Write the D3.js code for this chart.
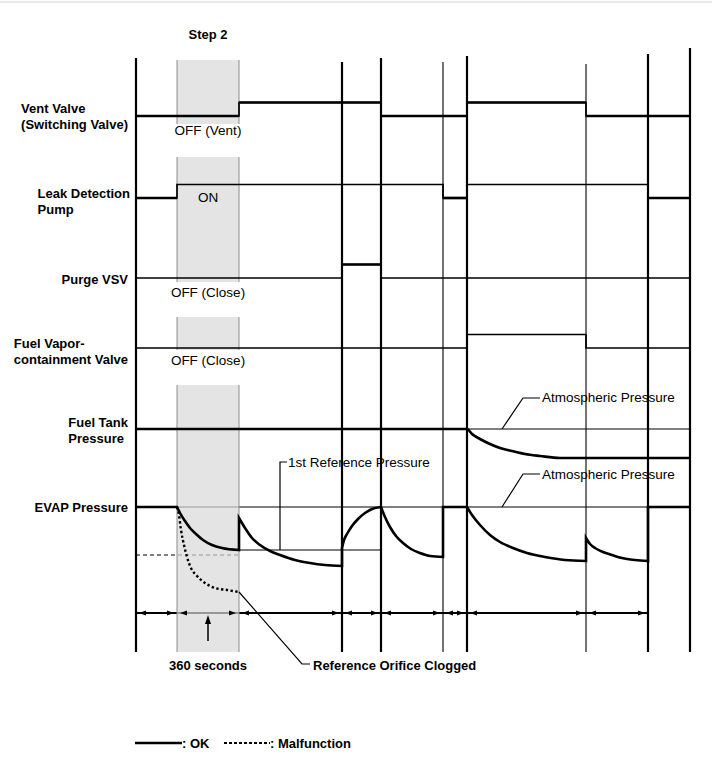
<!DOCTYPE html>
<meta charset="utf-8">
<style>
body { margin: 0; background: #fff; }
svg { display: block; font-family: "Liberation Sans", Arial, sans-serif; }
.lbl { font-size: 13px; font-weight: bold; }
.note { font-size: 13.5px; }
.thin { stroke: #000; stroke-width: 1px; fill: none; }
</style>
<svg width="712" height="782"></svg>
<script src="https://d3js.org/d3.v7.min.js"></script>
<script>

// time along the check cycle (arbitrary units, start = 0)
var timeMarks = [0, 206, 245, 307, 331, 450, 512, 554];
var stepBand = [41, 103];
var timeSegments = [0, 41, 103, 206, 245, 307, 331, 450, 512];

// on/off signals: [time, state]  (1 = upper level)
var ventValve  = [[0,0],[103,1],[245,0],[331,1],[450,0],[554,0]];
var leakPump   = [[0,0],[41,1],[307,0],[331,1],[512,0],[554,0]];
var purgeVsv   = [[0,0],[206,1],[245,0],[554,0]];
var vaporValve = [[0,0],[331,1],[450,0],[554,0]];

// pressures, relative to atmospheric (0)
var tankPressure = [[0,0],[331,0],[336,-5],[344,-10],[354,-15],[364,-19],[376,-22],[389,-25],[404,-27],[424,-29],[554,-29]];
var evapOk = [
  [[0,0],[41,0]],
  [[41,0],[44,-6],[49,-14],[54,-21],[60,-27],[67,-33],[76,-38],[86,-41],[103,-43]],
  [[103,-11],[109,-21],[116,-31],[124,-38],[134,-44],[144,-48],[159,-53],[174,-56],[189,-58],[206,-59]],
  [[206,-41],[208,-33],[211,-27],[216,-19],[222,-12],[229,-6],[236,-2],[245,0]],
  [[245,0],[249,-10],[254,-20],[260,-29],[267,-36],[275,-42],[284,-46],[294,-49],[307,-50]],
  [[307,0],[331,0]],
  [[331,0],[336,-8],[344,-18],[354,-28],[364,-35],[377,-41],[391,-46],[409,-50],[429,-53],[450,-54]],
  [[450,-31],[454,-37],[459,-41],[467,-45],[476,-48],[486,-51],[499,-53],[512,-54]],
  [[512,0],[554,0]]
];
var evapNg = [[41,0],[43,-8],[45,-23],[48,-38],[51,-50],[55,-61],[61,-69],[69,-76],[79,-81],[91,-83],[103,-85]];
var refPressure = -43;
var ngLevel = -48;

var svg = d3.select("svg");
var x = d3.scaleLinear().domain([0, 554]).range([136, 690]);
var evapY = d3.scaleLinear().domain([0, -100]).range([507, 607]);
var tankY = d3.scaleLinear().domain([0, -100]).range([429, 529]);
var axisY = 613;

// top rule
svg.append("line").attr("x1", 0).attr("x2", 712).attr("y1", 2).attr("y2", 2)
  .attr("stroke", "#d2d2d2").attr("stroke-width", 1);

// thin lines that sit under the step band
var under = svg.append("g");
under.append("line").attr("class", "thin")
  .attr("x1", x(stepBand[0])).attr("x2", x(554)).attr("y1", evapY(0)).attr("y2", evapY(0));
under.append("line").attr("class", "thin").attr("stroke-dasharray", "4,3")
  .attr("x1", x(0)).attr("x2", x(stepBand[1])).attr("y1", evapY(ngLevel)).attr("y2", evapY(ngLevel));
under.append("line").attr("stroke", "#000").attr("stroke-width", 1.8)
  .attr("x1", x(0)).attr("x2", x(timeSegments[timeSegments.length - 1])).attr("y1", axisY).attr("y2", axisY);

// step 2 band
var bandPieces = [[60, 124], [157, 282], [317, 350], [385, 652]];
var band = svg.append("g");
bandPieces.forEach(function(p) {
  band.append("rect")
    .attr("x", x(stepBand[0])).attr("y", p[0])
    .attr("width", x(stepBand[1]) - x(stepBand[0])).attr("height", p[1] - p[0])
    .attr("fill", "#d9d9d9").attr("fill-opacity", 0.7);
  stepBand.forEach(function(t) {
    band.append("line").attr("x1", x(t)).attr("x2", x(t)).attr("y1", p[0]).attr("y2", p[1])
      .attr("stroke", "#8c8c8c").attr("stroke-width", 1);
  });
});

// vertical time marks
var thinMarks = [307, 450];
var markTop = {0: 58, 206: 62, 245: 58, 307: 62, 331: 56, 450: 64, 512: 54, 554: 48};
svg.append("g").selectAll("line").data(timeMarks).enter().append("line")
  .attr("x1", function(d) { return x(d); }).attr("x2", function(d) { return x(d); })
  .attr("y1", function(d) { return markTop[d]; }).attr("y2", 652)
  .attr("stroke", "#000")
  .attr("stroke-width", function(d) { return thinMarks.indexOf(d) >= 0 ? 1.1 : 2.2; });

// reference / atmospheric thin lines
svg.append("line").attr("class", "thin")
  .attr("x1", x(stepBand[1])).attr("x2", x(245)).attr("y1", evapY(refPressure)).attr("y2", evapY(refPressure));
svg.append("line").attr("class", "thin")
  .attr("x1", x(0)).attr("x2", x(554)).attr("y1", tankY(0)).attr("y2", tankY(0));

// on/off signals
var lanes = [
  {data: ventValve, base: 116, thick: [0, 1]},
  {data: leakPump, base: 198, thick: [0]},
  {data: purgeVsv, base: 278, thick: [1]},
  {data: vaporValve, base: 348, thick: []}
];
var stepLine = d3.line().curve(d3.curveStepAfter);
lanes.forEach(function(l) {
  var yy = function(s) { return l.base - s * 13.5; };
  svg.append("path")
    .attr("d", stepLine(l.data.map(function(d) { return [x(d[0]), yy(d[1])]; })))
    .attr("fill", "none").attr("stroke", "#000").attr("stroke-width", 1.7);
  for (var i = 0; i < l.data.length - 1; i++) {
    if (l.thick.indexOf(l.data[i][1]) < 0) continue;
    svg.append("line")
      .attr("x1", x(l.data[i][0])).attr("x2", x(l.data[i + 1][0]))
      .attr("y1", yy(l.data[i][1])).attr("y2", yy(l.data[i][1]))
      .attr("stroke", "#000").attr("stroke-width", 2.7);
  }
});

// pressure curves
function joinPath(segs, gen) {
  return segs.map(function(s, i) { var d = gen(s); return i ? "L" + d.slice(1) : d; }).join("");
}
var evapLine = d3.line().x(function(d) { return x(d[0]); }).y(function(d) { return evapY(d[1]); })
  .curve(d3.curveMonotoneX);
var tankLine = d3.line().x(function(d) { return x(d[0]); }).y(function(d) { return tankY(d[1]); })
  .curve(d3.curveMonotoneX);

svg.append("path").attr("d", tankLine(tankPressure))
  .attr("fill", "none").attr("stroke", "#000").attr("stroke-width", 2.7);
svg.append("path").attr("d", joinPath(evapOk, evapLine))
  .attr("fill", "none").attr("stroke", "#000").attr("stroke-width", 2.6).attr("stroke-linejoin", "miter");
svg.append("path").attr("d", evapLine(evapNg))
  .attr("fill", "none").attr("stroke", "#000").attr("stroke-width", 2.4).attr("stroke-dasharray", "2.4,2.4");

// time axis arrowheads
var arrows = svg.append("g").attr("fill", "#000");
for (var i = 0; i < timeSegments.length - 1; i++) {
  var a = x(timeSegments[i]) + 3, b = x(timeSegments[i + 1]) - 3;
  arrows.append("path").attr("d", "M" + a + "," + axisY + "L" + (a + 7) + "," + (axisY - 2.6) + "L" + (a + 7) + "," + (axisY + 2.6) + "Z");
  arrows.append("path").attr("d", "M" + b + "," + axisY + "L" + (b - 7) + "," + (axisY - 2.6) + "L" + (b - 7) + "," + (axisY + 2.6) + "Z");
}
var midBand = (x(stepBand[0]) + x(stepBand[1])) / 2;
svg.append("line").attr("x1", midBand).attr("x2", midBand).attr("y1", 641).attr("y2", 620)
  .attr("stroke", "#000").attr("stroke-width", 1.5);
svg.append("path").attr("d", "M" + midBand + "," + (axisY + 2) + "L" + (midBand - 3) + "," + (axisY + 11) + "L" + (midBand + 3) + "," + (axisY + 11) + "Z");

// leader lines
var leaders = svg.append("g").attr("fill", "none").attr("stroke", "#000").attr("stroke-width", 1.2);
leaders.append("path").attr("d", "M" + x(366) + "," + tankY(0) + "L523,398L540,398");
leaders.append("path").attr("d", "M" + x(366) + "," + evapY(0) + "L523,474L540,474");
leaders.append("path").attr("d", "M" + x(144) + "," + evapY(refPressure) + "L" + x(144) + ",462L287,462");
var ngEnd = evapNg[evapNg.length - 1];
leaders.append("path").attr("d", "M" + x(ngEnd[0]) + "," + evapY(ngEnd[1]) + "L302,664L310,664");

// row labels
var rowLabels = [
  {lines: ["Vent Valve", "(Switching Valve)"], y: 113, right: 128},
  {lines: ["Leak Detection", "Pump"], y: 198, right: 130},
  {lines: ["Purge VSV"], y: 284, right: 128},
  {lines: ["Fuel Vapor-", "containment Valve"], y: 348, right: 128},
  {lines: ["Fuel Tank", "Pressure"], y: 427, right: 128},
  {lines: ["EVAP Pressure"], y: 512, right: 128}
];
rowLabels.forEach(function(r) {
  var g = svg.append("g");
  var texts = r.lines.map(function(s, i) {
    return g.append("text").attr("class", "lbl").attr("y", r.y + i * 16).text(s);
  });
  var w = d3.max(texts, function(t) { return t.node().getComputedTextLength(); });
  texts.forEach(function(t) { t.attr("x", r.right - w); });
});

function note(txt, xx, yy, cls, anchor) {
  svg.append("text").attr("class", cls).attr("x", xx).attr("y", yy)
    .attr("text-anchor", anchor || "start").text(txt);
}
note("Step 2", midBand, 39, "lbl", "middle");
note("OFF (Vent)", midBand, 135, "note", "middle");
note("ON", midBand, 202, "note", "middle");
note("OFF (Close)", midBand, 297, "note", "middle");
note("OFF (Close)", midBand, 365, "note", "middle");
note("Atmospheric Pressure", 542, 402, "note");
note("Atmospheric Pressure", 542, 479, "note");
note("1st Reference Pressure", 288, 467, "note");
note("360 seconds", midBand, 670, "lbl", "middle");
note("Reference Orifice Clogged", 313, 670, "lbl");

// legend
svg.append("line").attr("x1", 135).attr("x2", 182).attr("y1", 743).attr("y2", 743)
  .attr("stroke", "#000").attr("stroke-width", 2.4);
note(": OK", 182, 748, "lbl");
svg.append("line").attr("x1", 224).attr("x2", 270).attr("y1", 743).attr("y2", 743)
  .attr("stroke", "#000").attr("stroke-width", 2.2).attr("stroke-dasharray", "3,2");
note(": Malfunction", 270, 748, "lbl");

</script>
